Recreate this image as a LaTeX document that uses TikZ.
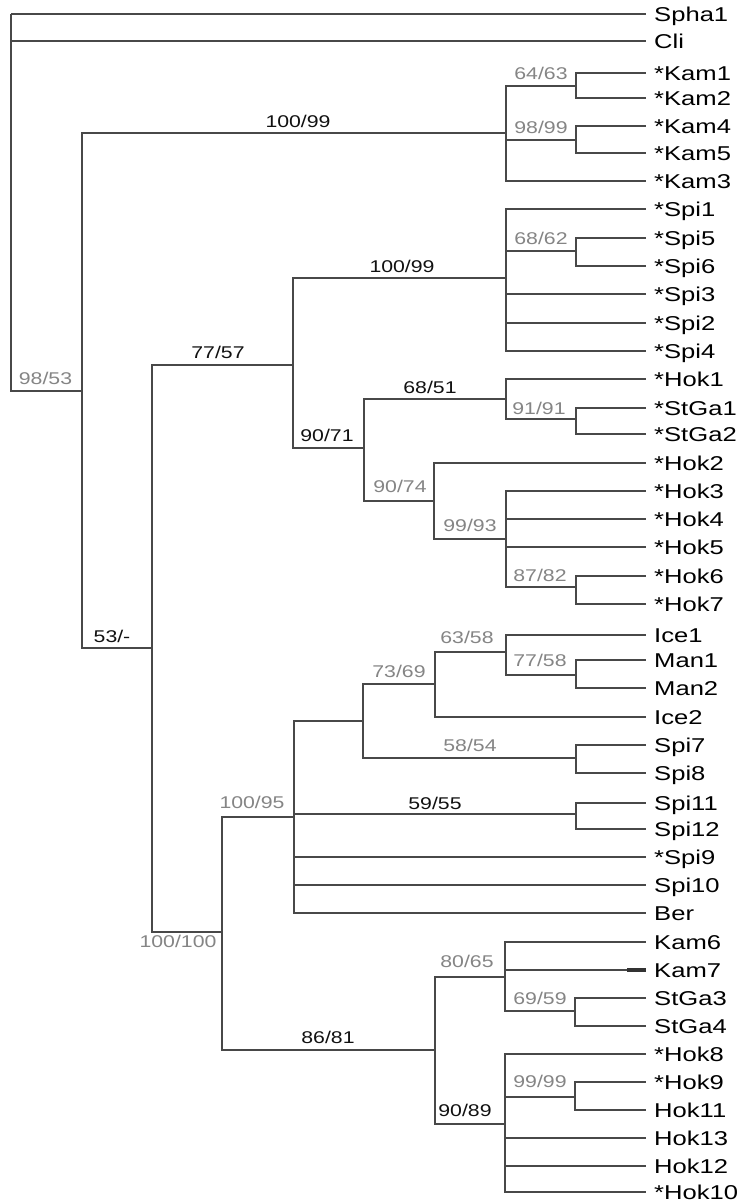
\documentclass[tikz,border=0pt]{standalone}
\usepackage{fontspec}
\newfontfamily\leaffont[FakeStretch=1.28]{Liberation Sans}
\newfontfamily\supfont[FakeStretch=1.25]{Liberation Sans}
\definecolor{linegray}{HTML}{484848}
\definecolor{suppgray}{HTML}{858585}
\definecolor{suppblack}{HTML}{111111}
\tikzset{
  branch/.style={draw=linegray, line width=2.1pt},
  leaf/.style={anchor=west, inner xsep=8pt, inner ysep=0pt, text height=14.3pt, text depth=0pt,
    font={\leaffont\fontsize{20}{24}\selectfont}, text=black},
  supp/.style={inner sep=0pt, font={\supfont\fontsize{17}{20}\selectfont}},
  gs/.style={supp, text=suppgray},
  bs/.style={supp, text=suppblack},
  darkdash/.style={draw=black!80, line width=3.5pt}
}
\begin{document}
\begin{tikzpicture}[x=1pt,y=-1pt]
\fill[white] (0,0) rectangle (742,1202);
\useasboundingbox (0,0) rectangle (742,1202);

% ---- leaves ----
\foreach \n/\t/\y in {
  Spha1/Spha1/14, Cli/Cli/41,
  Kam1/*Kam1/73, Kam2/*Kam2/98, Kam4/*Kam4/126, Kam5/*Kam5/153, Kam3/*Kam3/181,
  Spi1/*Spi1/209, Spi5/*Spi5/238, Spi6/*Spi6/266, Spi3/*Spi3/294, Spi2/*Spi2/323, Spi4/*Spi4/351,
  Hok1/*Hok1/379, StGa1/*StGa1/408, StGa2/*StGa2/434, Hok2/*Hok2/463, Hok3/*Hok3/491,
  Hok4/*Hok4/519, Hok5/*Hok5/547, Hok6/*Hok6/576, Hok7/*Hok7/604,
  Ice1/Ice1/635, Man1/Man1/660, Man2/Man2/688, Ice2/Ice2/717, Spi7/Spi7/745, Spi8/Spi8/773,
  Spi11/Spi11/803, Spi12/Spi12/829, Spi9/*Spi9/857, Spi10/Spi10/885, Ber/Ber/913,
  Kam6/Kam6/942, Kam7/Kam7/970, StGa3/StGa3/998, StGa4/StGa4/1026,
  Hok8/*Hok8/1054, Hok9/*Hok9/1082, Hok11/Hok11/1110, Hok13/Hok13/1138, Hok12/Hok12/1166, Hok10/*Hok10/1192}
  {\node[leaf] (L\n) at (646,\y) {\t};}

% ---- internal nodes (x of vertical, y of incoming branch) ----
\coordinate (R)      at (11,14);
\coordinate (IN)     at (82,391);
\coordinate (KAM)    at (506,133);
\coordinate (K12)    at (576,86);
\coordinate (K45)    at (576,140);
\coordinate (N53)    at (152,648);
\coordinate (N77)    at (293,365);
\coordinate (SPI)    at (506,278);
\coordinate (S56)    at (576,251);
\coordinate (N9071)  at (364,448);
\coordinate (N6851)  at (506,399);
\coordinate (N9191)  at (576,419);
\coordinate (N9074)  at (434,501);
\coordinate (N9993)  at (506,539);
\coordinate (N8782)  at (576,587);
\coordinate (N100)   at (222,932);
\coordinate (N10095) at (294,817);
\coordinate (NA)     at (363,721);
\coordinate (N7369)  at (435,684);
\coordinate (N6358)  at (506,652);
\coordinate (N7758)  at (576,675);
\coordinate (N5854)  at (576,758);
\coordinate (N5955)  at (576,814);
\coordinate (N8681)  at (435,1050);
\coordinate (N8065)  at (505,977);
\coordinate (N6959)  at (575,1011);
\coordinate (N9089)  at (505,1124);
\coordinate (N9999)  at (575,1097);

% ---- connectors ----
\foreach \p/\c in {
  R/LSpha1.west, R/LCli.west, R/IN,
  IN/KAM, IN/N53,
  KAM/K12, KAM/K45, KAM/LKam3.west,
  K12/LKam1.west, K12/LKam2.west, K45/LKam4.west, K45/LKam5.west,
  N53/N77, N53/N100,
  N77/SPI, N77/N9071,
  SPI/LSpi1.west, SPI/S56, SPI/LSpi3.west, SPI/LSpi2.west, SPI/LSpi4.west,
  S56/LSpi5.west, S56/LSpi6.west,
  N9071/N6851, N9071/N9074,
  N6851/LHok1.west, N6851/N9191, N9191/LStGa1.west, N9191/LStGa2.west,
  N9074/LHok2.west, N9074/N9993,
  N9993/LHok3.west, N9993/LHok4.west, N9993/LHok5.west, N9993/N8782,
  N8782/LHok6.west, N8782/LHok7.west,
  N100/N10095, N100/N8681,
  N10095/NA, N10095/N5955, N10095/LSpi9.west, N10095/LSpi10.west, N10095/LBer.west,
  NA/N7369, NA/N5854,
  N7369/N6358, N7369/LIce2.west,
  N6358/LIce1.west, N6358/N7758, N7758/LMan1.west, N7758/LMan2.west,
  N5854/LSpi7.west, N5854/LSpi8.west,
  N5955/LSpi11.west, N5955/LSpi12.west,
  N8681/N8065, N8681/N9089,
  N8065/LKam6.west, N8065/LKam7.west, N8065/N6959,
  N6959/LStGa3.west, N6959/LStGa4.west,
  N9089/LHok8.west, N9089/N9999, N9089/LHok13.west, N9089/LHok12.west, N9089/LHok10.west,
  N9999/LHok9.west, N9999/LHok11.west}
  {\draw[branch] (\p) |- (\c);}

% dark mark on the Kam7 branch
\coordinate (K7mark) at (627,970);
\draw[darkdash] (K7mark) -- (LKam7.west);

% ---- support values ----
\node[gs] (s9853)  at (45.5,378) {98/53};
\node[bs] (s10099a) at (298,121) {100/99};
\node[gs] (s6463)  at (541,73)  {64/63};
\node[gs] (s9899)  at (541,127) {98/99};
\node[bs] (s53)    at (112,636) {53/-};
\node[bs] (s7757)  at (218,352) {77/57};
\node[bs] (s10099b) at (402,266) {100/99};
\node[gs] (s6862)  at (541,238) {68/62};
\node[bs] (s9071)  at (327,435) {90/71};
\node[bs] (s6851)  at (430,387) {68/51};
\node[gs] (s9191)  at (539,408) {91/91};
\node[gs] (s9074)  at (400,486) {90/74};
\node[gs] (s9993)  at (470,525) {99/93};
\node[gs] (s8782)  at (540,575) {87/82};
\node[gs] (s6358)  at (467,637) {63/58};
\node[gs] (s7758)  at (540,660) {77/58};
\node[gs] (s7369)  at (399,671) {73/69};
\node[gs] (s5854)  at (470,745) {58/54};
\node[bs] (s5955)  at (435,803) {59/55};
\node[gs] (s10095) at (252,802) {100/95};
\node[gs] (s100)   at (178,941) {100/100};
\node[bs] (s8681)  at (328,1037) {86/81};
\node[gs] (s8065)  at (467,961) {80/65};
\node[gs] (s6959)  at (540,998) {69/59};
\node[bs] (s9089)  at (465,1110) {90/89};
\node[gs] (s9999)  at (540,1081) {99/99};
\end{tikzpicture}
\end{document}
